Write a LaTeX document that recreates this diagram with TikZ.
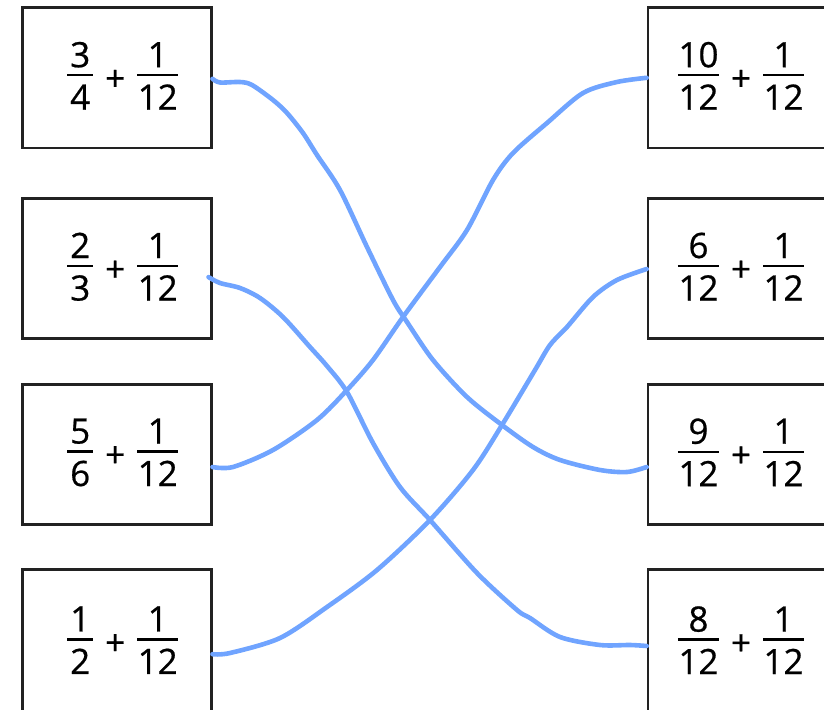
\documentclass[tikz,border=0pt]{standalone}
\usepackage{fontspec}
\setmainfont{Open Sans}
\newfontfamily\numfont{Open Sans}[FakeBold=0.6]
\newlength\frw
\newsavebox\frnum
\newsavebox\frden
\newcommand\fr[2]{%
  \sbox\frnum{#1}\sbox\frden{#2}%
  \ifdim\wd\frnum>\wd\frden \setlength\frw{\wd\frnum}\else\setlength\frw{\wd\frden}\fi
  \addtolength\frw{1pt}%
  \ifdim\frw<26pt \setlength\frw{26pt}\fi
  \makebox[\frw]{%
    \rlap{\rule[33.3pt]{\frw}{2.4pt}}%
    \rlap{\makebox[\frw]{\raisebox{42.5pt}{\usebox\frnum}}}%
    \makebox[\frw]{\usebox\frden}}}
\newcommand\expr[2]{%
  \rule[-4pt]{0pt}{4pt}%
  \makebox[0pt][r]{\fr{#1}{#2}\hspace{22pt}}%
  \makebox[0pt][c]{\raisebox{19pt}{+}}%
  \makebox[0pt][l]{\hspace{22pt}\fr{1}{12}}\kern3pt}
\definecolor{curveblue}{RGB}{112,164,255}
\definecolor{boxgray}{RGB}{34,34,34}
\tikzset{
  box/.style={draw=boxgray, line width=2.6pt, minimum width=189pt, minimum height=140pt,
    inner sep=0pt, font=\numfont\fontsize{35}{42}\selectfont},
  lowbox/.style={box, minimum height=146pt},
  conn/.style={draw=curveblue, line width=4.6pt, line cap=round, line join=round}
}
\begin{document}
\begin{tikzpicture}[x=1pt, y=-1pt]
\useasboundingbox (0,0) rectangle (824,709);
% left boxes
\node[box] (l1) at (116.7,77.8) {\expr{3}{4}};
\node[box] (l2) at (116.7,268.6) {\expr{2}{3}};
\node[box] (l3) at (116.7,454.3) {\expr{5}{6}};
\node[lowbox] (l4) at (116.7,642.2) {\expr{1}{2}};
% right boxes
\node[box] (r1) at (742.5,77.8) {\expr{10}{12}};
\node[box] (r2) at (742.5,268.6) {\expr{6}{12}};
\node[box] (r3) at (742.5,454.3) {\expr{9}{12}};
\node[lowbox] (r4) at (742.5,642.2) {\expr{8}{12}};
% end points
\coordinate (sA) at ([yshift=-1pt]l1.east);
\coordinate (eA) at ([yshift=-12.7pt]r3.west);
\coordinate (sB) at ([xshift=-4pt,yshift=-8.5pt]l2.east);
\coordinate (eB) at ([yshift=-3.8pt]r4.west);
\coordinate (sC) at ([yshift=-12.7pt]l3.east);
\coordinate (eC) at (r1.west);
\coordinate (sD) at ([yshift=-12pt]l4.east);
\coordinate (eD) at ([yshift=-0.4pt]r2.west);
% connectors
\draw[conn] plot[smooth, tension=0.5] coordinates {(sA) (220,82.5) (240,82) (252,85) (273,100) (287,113) (303,133) (317,155) (340,190) (367,247) (393,300) (407,322) (433,360) (467,397) (502,425) (533,447) (560,460) (600,470) (627,472) (eA)};
\draw[conn] plot[smooth, tension=0.5] coordinates {(sB) (220,283) (240,288) (260,298) (283,317) (310,347) (327,366) (347,392) (373,443) (400,487) (430,520) (477,573) (517,610) (530,618) (560,637) (600,645) (630,645) (eB)};
\draw[conn] plot[smooth, tension=0.5] coordinates {(sC) (233,467) (273,450) (317,420) (347,390) (373,360) (403,317) (440,267) (467,230) (493,180) (513,153) (547,123) (583,93) (617,82) (eC)};
\draw[conn] plot[smooth, tension=0.5] coordinates {(sD) (230,653) (280,638) (327,607) (377,570) (430,520) (473,470) (502,425) (535,370) (550,345) (567,327) (593,297) (617,280) (eD)};
\end{tikzpicture}
\end{document}
